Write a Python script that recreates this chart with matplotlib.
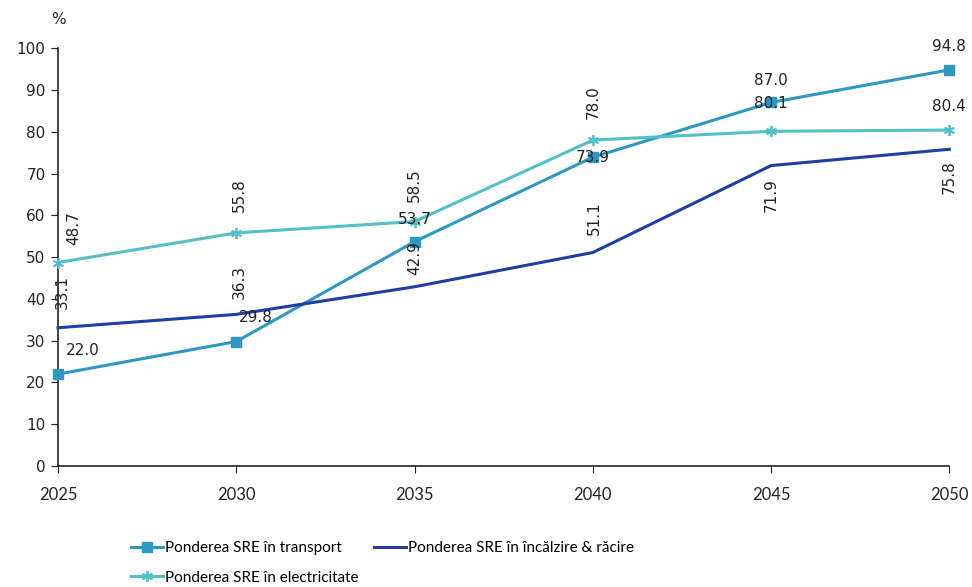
import matplotlib
matplotlib.use("Agg")
import matplotlib.pyplot as plt

years = [2025, 2030, 2035, 2040, 2045, 2050]
transport = [22.0, 29.8, 53.7, 73.9, 87.0, 94.8]
heating = [33.1, 36.3, 42.9, 51.1, 71.9, 75.8]
electricity = [48.7, 55.8, 58.5, 78.0, 80.1, 80.4]
series_names = ["Ponderea SRE în transport",
                "Ponderea SRE în încălzire & răcire",
                "Ponderea SRE în electricitate"]
y_ticks = list(range(0, 101, 10))

c_tr = "#2f98c2"
c_ht = "#1f3ea3"
c_el = "#55bfc7"
side_font = ["Lato", "DejaVu Sans"]

fig = plt.figure(figsize=(9.72, 5.87), dpi=100)
ax = fig.add_axes([0.0597, 0.206, 0.917, 0.712])

l1, = ax.plot(years, transport, color=c_tr, lw=2.2, marker="s", ms=7,
              label=series_names[0], clip_on=False, zorder=3)
l2, = ax.plot(years, heating, color=c_ht, lw=2.2, label=series_names[1],
              clip_on=False, zorder=3)
l3, = ax.plot(years, electricity, color=c_el, lw=2.2, marker=(6, 2, 0), ms=8, mew=1.3,
              label=series_names[2], clip_on=False, zorder=3)

ax.set_xlim(years[0], years[-1])
ax.set_ylim(0, 100)
ax.set_xticks(years)
ax.set_yticks(y_ticks)
for s in ["top", "right"]:
    ax.spines[s].set_visible(False)
for s in ["left", "bottom"]:
    ax.spines[s].set_color("#222222")
    ax.spines[s].set_linewidth(1.2)
ax.tick_params(axis="y", direction="out", length=5, labelsize=11, colors="#222222", pad=4)
ax.tick_params(axis="x", direction="out", length=5, labelsize=11, colors="#222222", pad=10)
for t in ax.get_xticklabels():
    t.set_fontfamily(side_font)
    t.set_fontsize(12)
ax.text(0.0, 1.05, "%", transform=ax.transAxes, fontsize=11, color="#222222",
        ha="center", va="bottom")

lab = dict(fontsize=11, color="#222222", ha="center", va="center")

# offsets in points (dx, dy) and rotation for each label
tr_off = [(18, 17), (14, 17), (0, 16), (0, 0), (0, 16), (0, 17)]
ht_off = [(3, 26), (2, 23), (0, 21), (1, 25), (0, -21), (0, -20)]
ht_rot = [90, 90, 90, 90, 90, 90]
el_off = [(11, 25), (2, 27), (0, 26), (0, 27), (0, 20), (0, 17)]
el_rot = [90, 90, 90, 90, 0, 0]

for i, x in enumerate(years):
    ax.annotate(f"{transport[i]:.1f}", (x, transport[i]), xytext=tr_off[i],
                textcoords="offset points", **lab)
    ax.annotate(f"{heating[i]:.1f}", (x, heating[i]), xytext=ht_off[i],
                textcoords="offset points", rotation=ht_rot[i], **lab)
    ax.annotate(f"{electricity[i]:.1f}", (x, electricity[i]), xytext=el_off[i],
                textcoords="offset points", rotation=el_rot[i], **lab)

leg = fig.legend([l1, l3, l2], [series_names[0], series_names[2], series_names[1]],
                 ncol=2, loc="upper left", bbox_to_anchor=(0.128, 0.088), frameon=False,
                 prop={"family": side_font, "size": 11}, handlelength=2.1,
                 columnspacing=1.0, labelspacing=1.0, handletextpad=0.15,
                 borderaxespad=0)

fig.savefig("out.png", dpi=100)
